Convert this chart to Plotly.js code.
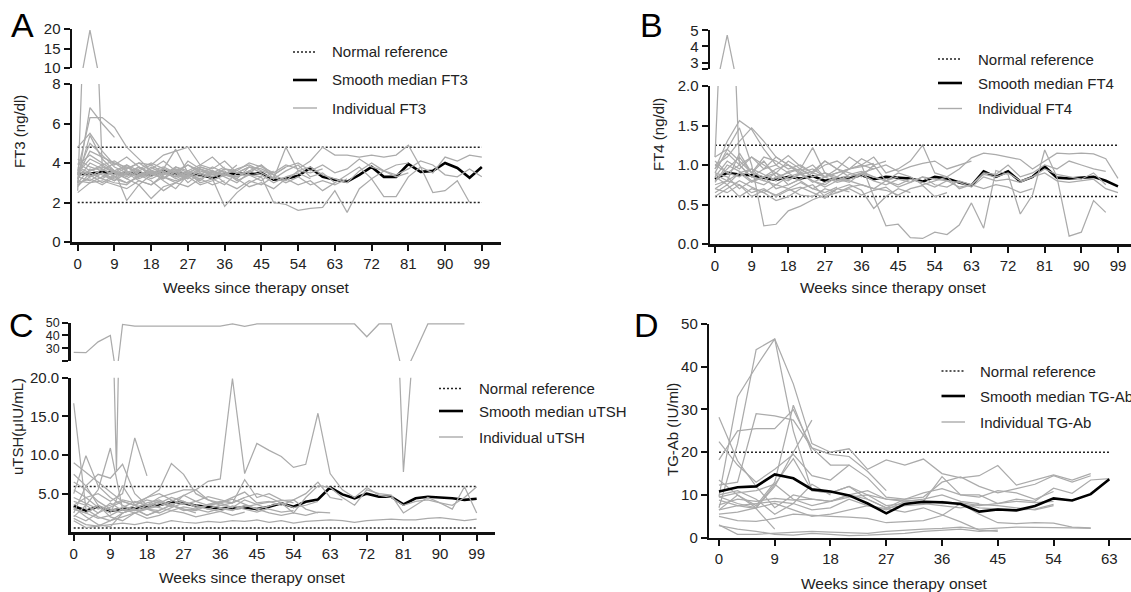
<!DOCTYPE html>
<html>
<head>
<meta charset="utf-8">
<script src="https://cdn.plot.ly/plotly-3.0.1.min.js"></script>
<style>html,body{margin:0;padding:0;background:#fff;}#chart{width:1131px;height:592px;}</style>
</head>
<body>
<div id="chart"></div>
<script>
// ---------------- DATA ----------------
const WEEKS = [0,3,6,9,12,15,18,21,24,27,30,33,36,39,42,45,48,51,54,57,60,63,66,69,72,75,78,81,84,87,90,93,96,99];
const WEEK_TICKS = [0,9,18,27,36,45,54,63,72,81,90,99];
const WEEKS_D = [0,3,6,9,12,15,18,21,24,27,30,33,36,39,42,45,48,51,54,57,60,63];
const WEEK_TICKS_D = [0,9,18,27,36,45,54,63];

// Panel A: FT3 (ng/dl)
const FT3_REF = [2.0, 4.8];
const FT3_MEDIAN = [3.45,3.45,3.55,3.5,3.45,3.5,3.4,3.6,3.45,3.45,3.4,3.25,3.45,3.45,3.45,3.5,3.15,3.2,3.35,3.75,3.3,3.15,3.05,3.4,3.8,3.3,3.3,3.95,3.55,3.6,4.0,3.75,3.25,3.8];
const FT3_INDIVIDUAL = [
  [2.6,19.7,3.8,3.6,3.9,3.4,3.5,3.2,3.8,3.5,3.3,3.6,3.4,3.9],
  [3.0,6.8,6.0,5.3],
  [3.6,6.3,6.3,5.8,4.8,4.2,3.6,3.8,3.5,3.2,3.7,3.4,3.6,3.1,3.4,3.3],
  [4.8,5.5,4.6,3.9,4.3,3.8,3.4,3.6,3.3,4.1,3.7,3.5,3.8],
  [3.2,5.4,4.2,3.6,2.1,2.9,2.2,2.8,3.0,3.4,3.1,3.6,3.3,3.0,3.5,3.9,3.2,4.8,3.6,3.5,3.7],
  [3.5,4.2,3.9,4.1,3.7,4.0,3.9,4.4,4.6,4.8,3.9,4.3,3.7,3.6,4.0,3.8,3.5,3.9,3.7,4.1,4.8,4.4,4.4,4.3,4.4,4.3,4.4,4.9,3.8,3.5,4.3,4.1,4.4,4.3],
  [3.0,3.2,2.9,3.3,3.5,3.1,2.9,3.4,3.7,3.0,3.5,3.2,1.8,2.5,3.0,3.3,2.0,1.9,1.6,1.7,1.75,2.6,1.5,2.7,3.2,2.3,2.3,3.3,3.8,2.5,2.6,3.1,2.0],
  [3.4,3.6,3.8,3.5,3.9,3.6,3.3,3.7,4.7,3.5,3.8,3.6,3.4,3.3,3.6,3.9,3.4,3.1,3.6,3.8,3.4,3.2,3.0,3.6,4.0,3.6,3.4,3.7,4.1,3.9,3.4,3.3,3.7,3.3],
  [2.8,3.5,3.2,3.0,2.9,3.4,3.1,2.6,3.0,3.3,2.9,3.1,3.4,3.2,2.8,3.0,2.7,3.2,2.9,3.1,2.6,3.0],
  [3.9,4.4,4.0,3.6,3.4,3.8,3.5,3.2,3.6,3.9,3.5,3.3,3.7,3.5,3.4,3.1,3.6],
  [3.1,3.0,3.3,3.6,3.2,2.9,3.4,3.6,3.2,3.5,3.0,3.2,2.9,3.5],
  [3.6,3.3,3.5,3.1,3.7,4.0,3.6,3.4,3.8,3.6,3.9,3.7,4.1,3.5,3.8,3.7,3.4,3.8,4.0,3.6,3.9,3.5,3.7,4.2,3.8,3.6,3.9,4.0],
  [3.2,4.0,3.7,3.3,3.0,3.3,3.6,3.1,2.7,3.4,3.2,2.9,3.1],
  [2.5,3.0,3.1,2.9,2.7,3.1,2.9,3.3,3.0,2.8,3.2,3.5,3.0,2.7,3.1,2.9,3.3,3.0,3.3,2.9,3.1,2.9,3.2],
  [3.4,4.6,4.3,4.0,3.8,3.4,3.7,4.1,3.6,3.3,3.6],
  [3.7,3.4,3.0,3.4,3.8,3.5,3.2,3.5,3.3,3.6,3.4,3.8,3.5,3.3,3.6,3.4,3.0,3.3,3.5,3.2],
  [4.2,3.8,3.6,4.0,3.6,3.3,3.8,3.4,3.7,3.4,3.2],
  [3.3,3.1,3.5,3.2,3.0,3.3,3.6,3.3,3.1,3.4,3.7,3.3,3.5,3.2,3.8,3.5,3.2,3.6,3.9,3.3,3.5,3.0,3.4,3.8,3.2,3.6,3.3,3.5],
  [2.9,3.3,3.7,3.4,3.6,3.2,3.5,3.7,3.4,3.2],
  [3.8,3.5,3.2,3.6,3.3,3.7,4.0,3.7,3.5,3.9,3.6,3.4,3.7,3.5,3.8],
  [3.5,5.0,4.4,3.8,3.5],
  [3.0,3.7,3.4,3.1,3.5,3.8,3.4],
  [4.0,3.6,3.9,3.5,3.2,3.6,3.9,3.5,3.3,3.5,3.8,3.6,3.4,3.7,3.9,3.6,3.4,3.8]
];

// Panel B: FT4 (ng/dl)
const FT4_REF = [0.6, 1.25];
const FT4_MEDIAN = [0.82,0.9,0.88,0.87,0.84,0.81,0.85,0.83,0.86,0.8,0.83,0.84,0.87,0.82,0.85,0.84,0.83,0.79,0.85,0.83,0.78,0.74,0.92,0.85,0.92,0.79,0.85,0.98,0.84,0.83,0.84,0.85,0.8,0.73];
const FT4_INDIVIDUAL = [
  [1.1,4.7,1.0,0.85,0.8,0.9,0.75,0.82],
  [0.9,1.2,1.47,1.0,0.23,0.25,0.42,0.48,0.56,0.62,0.7,0.66],
  [0.95,1.3,1.56,1.45,1.2,1.0,0.9,0.95,0.85,0.9,0.8,0.85],
  [1.0,1.1,1.3,1.47,1.3,1.1,1.0,0.92,1.0,0.85,0.9,0.95,1.0,0.6,0.23,0.25,0.08,0.07,0.15,0.12,0.24,0.52,0.2,0.93,0.88,0.38,0.62,1.19,0.85,0.1,0.15,0.55,0.4],
  [0.85,1.05,0.95,1.1,1.0,0.9,1.05,0.95,1.22,0.9,0.85,0.95,1.0,1.1,0.9,0.95,1.05,1.25,0.9,0.85,0.95,1.09,1.15,1.13,1.1,1.07,0.95,1.05,1.15,1.14,1.15,1.14,1.08,0.83],
  [0.7,0.8,0.75,0.65,0.7,0.6,0.68,0.72,0.65,0.58,0.7,0.75,0.68,0.45,0.6,0.7,0.65],
  [0.8,0.95,1.1,0.9,1.05,0.85,0.8,0.9,0.78,0.85,0.95,0.9,0.85,1.0,0.8,0.9,0.85,0.75,0.8,0.85,0.7,0.75,0.9,0.88,1.0,0.85,0.9,1.0,0.95,1.05,1.0,0.95,0.92],
  [1.05,0.9,1.0,0.85,0.95,1.1,1.0,0.88,0.92,1.05,0.95,0.85,0.9,0.95,1.0,0.92,0.98,1.02,1.05,0.95,1.0,1.05],
  [0.65,0.75,0.6,0.7,0.65,0.55,0.6,0.7,0.75,0.6,0.65,0.7,0.62,0.68,0.72,0.6],
  [0.9,0.85,0.7,0.8,0.75,0.85,0.9,0.8,0.7,0.78,0.85,0.8,0.75,0.7,0.8,0.72,0.78,0.85,0.75,0.72,0.8,0.75,0.7,0.75,0.72,0.65,0.7],
  [1.1,1.2,1.05,0.9,1.1,1.05,0.95,1.0,0.9,1.05,0.95,1.1,1.0,0.95],
  [0.75,0.8,0.9,0.78,0.85,0.7,0.75,0.82,0.9,0.85,0.78,0.82,0.88,0.8,0.75,0.82,0.78,0.85,0.82,0.8,0.78,0.72,0.85,0.8,0.82,0.78,0.85,0.9,0.8,0.78,0.8,0.82,0.7,0.65],
  [0.6,0.7,0.8,0.72,0.65,0.75,0.7,0.62,0.6,0.7,0.65,0.72,0.75,0.7,0.68,0.62,0.7,0.74,0.6,0.65],
  [0.95,1.15,1.0,1.1,0.95,1.0,1.12,0.98,0.9,1.0,1.05,0.95,1.08,1.0,1.05],
  [0.85,0.75,0.9,0.95,0.8,0.75,0.85,0.9,0.8,0.72,0.8,0.88,0.92,0.85,0.8,0.85],
  [0.7,0.65,0.75,0.6,0.68,0.62,0.7,0.78,0.7,0.65,0.72],
  [1.0,0.9,0.85,0.95,0.88,0.8,0.92,0.95,0.85,0.9,0.82,0.78,0.9,0.85,0.8,0.75,0.82,0.78,0.72,0.8,0.72,0.75,0.88,0.85,0.9,0.8,0.85,0.95,0.88,0.85,0.82,0.9,0.75],
  [0.78,1.0,0.92,0.8,0.85,0.9,0.82,0.88,0.8,0.75,0.85,0.8],
  [0.88,0.8,1.15,0.9,0.85,0.95,1.0,0.9,0.95,0.85,0.9,0.95,0.98,1.02]
];

// Panel C: uTSH (uIU/mL)
const TSH_REF = [0.56, 5.91];
const TSH_MEDIAN = [3.4,2.8,3.3,2.8,3.0,3.1,3.35,3.5,3.95,3.75,3.45,3.3,3.1,3.1,3.2,3.0,3.3,3.75,3.3,3.95,4.25,5.8,4.9,4.4,5.0,4.6,4.6,3.6,4.4,4.6,4.5,4.4,4.2,4.35];
const TSH_HIGH_WEEKS = [0,3,6,9,10.5,12,15,18,21,24,27,30,33,36,39,42,45,48,51,54,57,60,63,66,69,72,75,78,81,84,87,90,93,96];
const TSH_HIGH = [26.8,26.5,35,40,8,48.7,47.4,47.4,47.4,47.4,47.4,47.4,47.4,47.4,49,47.2,49,49,49,49,49,49,49,49,49,39,49,49,7.8,28,49,49,49,49];
const TSH_INDIVIDUAL = [
  [3.0,2.5,3.5,2.8,3.2,4.0,3.5,4.5,5.0,5.5,5.5,6.6,6.9,19.9,7.6,11.5,10.6,9.8,8.4,8.8,15.4,7.6,5.5,4.5,5.8,4.8,4.5,3.5,4.0,4.2,3.8,3.5,4.5,5.9],
  [16.7,3.0,2.0,1.5,2.5,3.0,2.2,2.8,3.5,3.0,2.5],
  [3.5,4.5,5.0,4.0,5.0,12.2,7.3],
  [2.0,3.5,5.5,10.9,3.0,2.5,3.2,4.0,3.5,2.8,3.0,3.6,4.0,3.8,4.5],
  [5.0,9.9,6.0,4.5,3.5,2.8,3.0,3.4,4.0,4.8,5.5,4.2,3.5,3.8,6.8,4.5,5.0,4.2,3.8],
  [9.0,7.8,6.5,5.2,4.0,3.5,4.5,5.5,8.9,7.5,5.0,4.2,3.8,4.5,5.2,3.8,4.0,3.5,4.2,3.0,2.5],
  [2.5,6.0,7.5,7.0,8.8,5.0,3.5,4.0],
  [1.5,0.6,0.8,1.0,1.2,1.0,1.3,1.1,1.5,1.3,1.2,1.4,1.3,1.5,1.4,1.6,1.3,1.5,1.2,1.4,1.5,1.6,1.5,1.3,1.5,1.6,1.7,1.6,1.6,1.8,1.9,1.7,1.5,1.7],
  [3.0,2.5,1.8,2.2,3.0,2.8,3.5,3.2,2.8,3.3,3.0,2.6,3.1,2.8,3.5,3.0,2.5,2.2,2.5,2.2,2.6,2.5],
  [4.5,3.8,3.0,3.5,4.2,3.8,4.5,5.0,4.2,3.6,4.0,4.6,4.2,3.8,4.5,5.0,4.5,3.8,2.5,4.5,6.0,5.8,4.5,3.5,5.5,5.0,4.8,2.5,3.5,4.5,3.8,3.0,5.9,2.5],
  [6.5,5.5,4.0,3.0,2.5,3.2,3.8,4.2,3.5,3.0,2.8,3.5,3.2,2.9,3.3,3.6,3.0,2.6,2.8],
  [2.2,1.5,2.5,3.2,4.0,3.5,3.0,2.5,3.2,3.8,3.5,3.0,2.7,3.4,3.0,2.6,3.1],
  [7.5,6.0,3.5,2.0,1.5,2.5,3.0,3.8,4.5,4.0,3.2,3.5,3.8,4.3,3.6,3.0,3.4,3.8,3.2,3.5,4.0],
  [1.8,1.0,0.8,1.5,2.0,2.5,1.8,2.2,2.8,2.5,2.0,2.4,2.7,2.2,2.6],
  [4.0,3.5,2.5,3.8,2.8,3.5,4.2,3.8,3.3,4.8,4.0,3.5,3.8,3.2,4.2,3.6,3.9,4.1,4.2,5.0,6.5,4.5,4.2],
  [3.2,2.0,1.0,0.7,2.5,3.0,2.2,2.8],
  [5.5,4.5,3.2,2.5,6.0,3.5,3.0,2.8,3.6,4.0,3.4,3.0,3.5,3.2]
];

// Panel D: TG-Ab (IU/ml)
const TGAB_REF = [20];
const TGAB_MEDIAN = [10.8,11.8,12,14.8,13.9,11.3,10.8,9.9,8,5.7,7.9,8.4,8.3,7.9,6.1,6.6,6.4,7.4,9.2,8.7,10.2,13.7];
const TGAB_INDIVIDUAL = [
  [7.0,22,44,46.5,36,22,20,20.8,16,18.2,17,18.4,15,14,14.5,16.9,12.3,13.5,14.7,13.5,15],
  [9.6,33,40,46.5,25,11,10.5,12,9,7,9,10.5,11.5,10,9.5,11,10.5,9,10.8],
  [28.2,18,12,7,10,9,8.5,10,11,9,8.5,9,10,8.5,8],
  [22.5,17,13,16,19.5,14.5,13.5,17,14,9.5,9,9.5,13,14.2,12,10.5,11.5,12.5,14.5,13,14.5],
  [18.2,25,25.5,25.5,30,21,19.5,19,15.5,11],
  [12.3,13,29,28.5,27.5,21,17,17],
  [13.5,10,7.5,13,31,20],
  [9.6,8,7,12,20,27.5],
  [6.5,10,7,12.5,18.5,11,10.5,12,10,7.5,8,8.5,14.3,10,10,8,9,8.5,11.6,10.4,13.5,13.8],
  [8.8,7.5,8,8.5,8,6.5,7,9,7.5,6.5,8.5,8,7.5,7,7.8,7.5,7,6.5,7.5],
  [7.7,9,8.5,9.2,8.8,9,8.5,10,9,7,7.5,7.8,8.5,8,7,6.8,6.5,6.7,7.8],
  [3.0,0.8,0.8,1.0,1.2,1.5,1.3,1.2,1.0,1.5,1.8,2.0,2.2,2.5,2.0,2.2,2.5,2.4,2.4,2.3,2.2],
  [5.5,6.0,7.0,8.0,6.5,5.0,5.5,6.5,7.5,6.8,6.0,7.0,5.3,3.7,1.8,1.5],
  [2.8,2.0,1.5,0.8,0.6,1.0,0.8,0.5,0.6,0.8,1.0,1.5,1.8,2.0,1.5,1.8],
  [10,11,9,5.5,8,12.5,10],
  [6.5,7.5,6.8,2.0],
  [5,4,3.8,4.5,5.5,5.2,5,4.8,4.5,3.5,3.8,4,5.2,8,5.5,3.5,3.3,3.5,3.4,2.5,2.3],
  [9.5,10.5,11,12.5,9,7.5,8.5,9.5,10,9,8.8,8.5,8,8.2,7.5,8,8.5,8.2,8.5]
];

const LEGEND_A = ['Normal reference','Smooth median FT3','Individual FT3'];
const LEGEND_B = ['Normal reference','Smooth median FT4','Individual FT4'];
const LEGEND_C = ['Normal reference','Smooth median uTSH','Individual uTSH'];
const LEGEND_D = ['Normal reference','Smooth median TG-Ab','Individual TG-Ab'];

// ---------------- BUILD ----------------
const W = 1131, H = 592;
const px = v => v / W;
const py = v => 1 - v / H;
const FONT = 'Liberation Sans, Arial, sans-serif';
const GRAY = '#ababab';
const traces = [];

// lower: axis of the lower segment; upper: axis of the upper (broken) segment, used only by
// lines that rise past the top of the lower segment (lowTop)
function grayLines(lines, weeks, xa, lower, upper, lowTop) {
  lines.forEach(arr => {
    const axes = [lower];
    if (upper && Math.max.apply(null, arr) > lowTop) axes.push(upper);
    axes.forEach(ya => {
      traces.push({type:'scatter', mode:'lines', x: weeks.slice(0, arr.length), y: arr,
        xaxis: xa, yaxis: ya, line:{color:GRAY, width:1.25}, hoverinfo:'skip', showlegend:false});
    });
  });
}
function median(arr, weeks, xa, ya) {
  traces.push({type:'scatter', mode:'lines', x: weeks.slice(0, arr.length), y: arr, xaxis: xa, yaxis: ya,
    line:{color:'#000', width:2.6}, hoverinfo:'skip', showlegend:false});
}
function refs(vals, weeks, xa, ya) {
  vals.forEach(v => traces.push({type:'scatter', mode:'lines', x:[weeks[0], weeks[weeks.length-1]], y:[v, v],
    xaxis: xa, yaxis: ya, line:{color:'#222', width:1.5, dash:'2px,2px'}, hoverinfo:'skip', showlegend:false}));
}

// A
refs(FT3_REF, WEEKS, 'x', 'y');
median(FT3_MEDIAN, WEEKS, 'x', 'y');
grayLines(FT3_INDIVIDUAL, WEEKS, 'x', 'y', 'y2', 8);
// B
refs(FT4_REF, WEEKS, 'x2', 'y3');
median(FT4_MEDIAN, WEEKS, 'x2', 'y3');
grayLines(FT4_INDIVIDUAL, WEEKS, 'x2', 'y3', 'y4', 2);
// C
refs(TSH_REF, WEEKS, 'x3', 'y5');
median(TSH_MEDIAN, WEEKS, 'x3', 'y5');
grayLines(TSH_INDIVIDUAL, WEEKS, 'x3', 'y5', 'y6', 20);
grayLines([TSH_HIGH], TSH_HIGH_WEEKS, 'x3', 'y5', 'y6', 20);
// D
refs(TGAB_REF, WEEKS_D, 'x4', 'y7');
grayLines(TGAB_INDIVIDUAL, WEEKS_D, 'x4', 'y7', null, 50);
median(TGAB_MEDIAN, WEEKS_D, 'x4', 'y7');

const base = {showline:true, linecolor:'#111', linewidth:2.5, ticks:'outside', ticklen:6, tickwidth:2,
  tickcolor:'#111', showgrid:false, zeroline:false, fixedrange:true,
  tickfont:{family:FONT, size:15, color:'#222'}, tickmode:'array'};
const ax = o => Object.assign({}, base, o);

const layout = {
  width: W, height: H, margin:{l:0,r:0,t:0,b:0}, paper_bgcolor:'#fff', plot_bgcolor:'rgba(0,0,0,0)',
  showlegend:false, font:{family:FONT, color:'#222'},
  // A
  xaxis: ax({domain:[px(72), px(501)], range:[-1.4,103.7], tickvals:WEEK_TICKS, anchor:'y'}),
  yaxis: ax({domain:[py(242), py(84)], range:[0,8], tickvals:[0,2,4,6,8], anchor:'x'}),
  yaxis2: ax({domain:[py(68), py(29)], range:[10,20], tickvals:[10,15,20], anchor:'x'}),
  // B
  xaxis2: ax({domain:[px(710), 1], range:[-1.23,102.2], tickvals:WEEK_TICKS, anchor:'y3'}),
  yaxis3: ax({domain:[py(244), py(86)], range:[0,2], tickvals:[0,0.5,1,1.5,2], ticktext:['0.0','0.5','1.0','1.5','2.0'], anchor:'x2'}),
  yaxis4: ax({domain:[py(69), py(30.3)], range:[2.6,5], tickvals:[2.6,3,4,5], ticktext:['','3','4','5'], anchor:'x2'}),
  // C
  xaxis3: ax({domain:[px(70.7), px(495)], range:[-0.74,103.5], tickvals:WEEK_TICKS, anchor:'y5'}),
  yaxis5: ax({domain:[py(532.3), py(377.7)], range:[0,20], tickvals:[5,10,15,20], ticktext:['5.0','10.0','15.0','20.0'], anchor:'x3'}),
  yaxis6: ax({domain:[py(361), py(322.7)], range:[20,50], tickvals:[20,30,40,50], ticktext:['','30','40','50'], anchor:'x3', tickfont:{family:FONT, size:12.5, color:'#222'}}),
  // D
  xaxis4: ax({domain:[px(709.3), 1], range:[-1.56,66.5], tickvals:WEEK_TICKS_D, anchor:'y7'}),
  yaxis7: ax({domain:[py(537.7), py(324)], range:[0,50], tickvals:[0,10,20,30,40,50], anchor:'x4'}),
  annotations: [],
  shapes: []
};

function text(t, x, y, opts) {
  layout.annotations.push(Object.assign({text:t, x:px(x), y:py(y), xref:'paper', yref:'paper', showarrow:false,
    xanchor:'center', yanchor:'middle', font:{family:FONT, size:15, color:'#222'}}, opts || {}));
}
function legend(labels, x0, x1, tx, ys) {
  const styles = [{color:'#222', width:1.5, dash:'2px,2px'}, {color:'#000', width:2.6}, {color:GRAY, width:1.4}];
  labels.forEach((lab, i) => {
    layout.shapes.push({type:'line', xref:'paper', yref:'paper', x0:px(x0), x1:px(x1), y0:py(ys[i]), y1:py(ys[i]), line:styles[i]});
    text(lab, tx, ys[i], {xanchor:'left'});
  });
}

// panel letters
text('A', 22, 25, {font:{family:FONT, size:34, color:'#000'}});
text('B', 651, 25, {font:{family:FONT, size:34, color:'#000'}});
text('C', 21, 325, {font:{family:FONT, size:34, color:'#000'}});
text('D', 646, 325, {font:{family:FONT, size:34, color:'#000'}});
// axis titles
text('Weeks since therapy onset', 256.5, 287, {font:{family:FONT, size:15.5, color:'#222'}});
text('Weeks since therapy onset', 893, 287.5, {font:{family:FONT, size:15.5, color:'#222'}});
text('Weeks since therapy onset', 252, 577.5, {font:{family:FONT, size:15.5, color:'#222'}});
text('Weeks since therapy onset', 894, 583, {font:{family:FONT, size:15.5, color:'#222'}});
text('FT3 (ng/dl)', 19, 132, {textangle:-90});
text('FT4 (ng/dl)', 658, 135, {textangle:-90});
text('uTSH(\u03bcIU/mL)', 17, 427, {textangle:-90});
text('TG-Ab (IU/ml)', 672, 430, {textangle:-90});
// legends
legend(LEGEND_A, 293, 317, 330, [52, 80, 108]);
legend(LEGEND_B, 938, 962, 975.5, [59, 83, 108.5]);
legend(LEGEND_C, 439, 463, 476.5, [388.5, 411, 437]);
legend(LEGEND_D, 941.5, 965, 978, [371, 396, 422]);

Plotly.newPlot('chart', traces, layout, {staticPlot:true, displayModeBar:false});
</script>
</body>
</html>
